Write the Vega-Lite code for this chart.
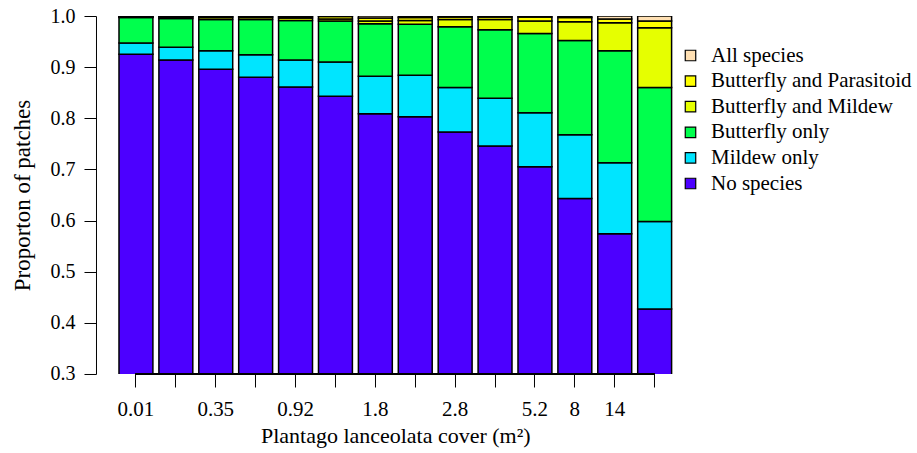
{
  "$schema": "https://vega.github.io/schema/vega-lite/v6.json",
  "autosize": "none",
  "width": 558.6,
  "height": 358,
  "padding": {"left": 116, "top": 16, "right": 242, "bottom": 79},
  "background": "white",
  "config": {
    "view": {"stroke": null},
    "font": "Liberation Serif",
    "axis": {"labelFont": "Liberation Serif", "titleFont": "Liberation Serif", "labelColor": "black", "titleColor": "black", "domainColor": "black", "tickColor": "black", "grid": false, "titleFontWeight": "normal"},
    "legend": {"labelFont": "Liberation Serif", "labelColor": "black"}
  },
  "data": {"values": [
    {"bin": 1, "status": "No species", "p": 0.925},
    {"bin": 1, "status": "Mildew only", "p": 0.022},
    {"bin": 1, "status": "Butterfly only", "p": 0.050},
    {"bin": 1, "status": "Butterfly and Mildew", "p": 0.001},
    {"bin": 1, "status": "Butterfly and Parasitoid", "p": 0.001},
    {"bin": 1, "status": "All species", "p": 0.001},
    {"bin": 2, "status": "No species", "p": 0.914},
    {"bin": 2, "status": "Mildew only", "p": 0.025},
    {"bin": 2, "status": "Butterfly only", "p": 0.056},
    {"bin": 2, "status": "Butterfly and Mildew", "p": 0.003},
    {"bin": 2, "status": "Butterfly and Parasitoid", "p": 0.001},
    {"bin": 2, "status": "All species", "p": 0.001},
    {"bin": 3, "status": "No species", "p": 0.896},
    {"bin": 3, "status": "Mildew only", "p": 0.036},
    {"bin": 3, "status": "Butterfly only", "p": 0.061},
    {"bin": 3, "status": "Butterfly and Mildew", "p": 0.004},
    {"bin": 3, "status": "Butterfly and Parasitoid", "p": 0.002},
    {"bin": 3, "status": "All species", "p": 0.001},
    {"bin": 4, "status": "No species", "p": 0.880},
    {"bin": 4, "status": "Mildew only", "p": 0.044},
    {"bin": 4, "status": "Butterfly only", "p": 0.069},
    {"bin": 4, "status": "Butterfly and Mildew", "p": 0.004},
    {"bin": 4, "status": "Butterfly and Parasitoid", "p": 0.002},
    {"bin": 4, "status": "All species", "p": 0.001},
    {"bin": 5, "status": "No species", "p": 0.861},
    {"bin": 5, "status": "Mildew only", "p": 0.053},
    {"bin": 5, "status": "Butterfly only", "p": 0.077},
    {"bin": 5, "status": "Butterfly and Mildew", "p": 0.005},
    {"bin": 5, "status": "Butterfly and Parasitoid", "p": 0.003},
    {"bin": 5, "status": "All species", "p": 0.001},
    {"bin": 6, "status": "No species", "p": 0.843},
    {"bin": 6, "status": "Mildew only", "p": 0.067},
    {"bin": 6, "status": "Butterfly only", "p": 0.080},
    {"bin": 6, "status": "Butterfly and Mildew", "p": 0.004},
    {"bin": 6, "status": "Butterfly and Parasitoid", "p": 0.005},
    {"bin": 6, "status": "All species", "p": 0.001},
    {"bin": 7, "status": "No species", "p": 0.809},
    {"bin": 7, "status": "Mildew only", "p": 0.073},
    {"bin": 7, "status": "Butterfly only", "p": 0.103},
    {"bin": 7, "status": "Butterfly and Mildew", "p": 0.005},
    {"bin": 7, "status": "Butterfly and Parasitoid", "p": 0.006},
    {"bin": 7, "status": "All species", "p": 0.004},
    {"bin": 8, "status": "No species", "p": 0.803},
    {"bin": 8, "status": "Mildew only", "p": 0.081},
    {"bin": 8, "status": "Butterfly only", "p": 0.100},
    {"bin": 8, "status": "Butterfly and Mildew", "p": 0.007},
    {"bin": 8, "status": "Butterfly and Parasitoid", "p": 0.006},
    {"bin": 8, "status": "All species", "p": 0.003},
    {"bin": 9, "status": "No species", "p": 0.773},
    {"bin": 9, "status": "Mildew only", "p": 0.087},
    {"bin": 9, "status": "Butterfly only", "p": 0.119},
    {"bin": 9, "status": "Butterfly and Mildew", "p": 0.014},
    {"bin": 9, "status": "Butterfly and Parasitoid", "p": 0.005},
    {"bin": 9, "status": "All species", "p": 0.002},
    {"bin": 10, "status": "No species", "p": 0.746},
    {"bin": 10, "status": "Mildew only", "p": 0.093},
    {"bin": 10, "status": "Butterfly only", "p": 0.134},
    {"bin": 10, "status": "Butterfly and Mildew", "p": 0.020},
    {"bin": 10, "status": "Butterfly and Parasitoid", "p": 0.005},
    {"bin": 10, "status": "All species", "p": 0.002},
    {"bin": 11, "status": "No species", "p": 0.705},
    {"bin": 11, "status": "Mildew only", "p": 0.106},
    {"bin": 11, "status": "Butterfly only", "p": 0.155},
    {"bin": 11, "status": "Butterfly and Mildew", "p": 0.024},
    {"bin": 11, "status": "Butterfly and Parasitoid", "p": 0.008},
    {"bin": 11, "status": "All species", "p": 0.002},
    {"bin": 12, "status": "No species", "p": 0.643},
    {"bin": 12, "status": "Mildew only", "p": 0.125},
    {"bin": 12, "status": "Butterfly only", "p": 0.184},
    {"bin": 12, "status": "Butterfly and Mildew", "p": 0.037},
    {"bin": 12, "status": "Butterfly and Parasitoid", "p": 0.008},
    {"bin": 12, "status": "All species", "p": 0.003},
    {"bin": 13, "status": "No species", "p": 0.574},
    {"bin": 13, "status": "Mildew only", "p": 0.139},
    {"bin": 13, "status": "Butterfly only", "p": 0.219},
    {"bin": 13, "status": "Butterfly and Mildew", "p": 0.055},
    {"bin": 13, "status": "Butterfly and Parasitoid", "p": 0.007},
    {"bin": 13, "status": "All species", "p": 0.006},
    {"bin": 14, "status": "No species", "p": 0.427},
    {"bin": 14, "status": "Mildew only", "p": 0.171},
    {"bin": 14, "status": "Butterfly only", "p": 0.262},
    {"bin": 14, "status": "Butterfly and Mildew", "p": 0.117},
    {"bin": 14, "status": "Butterfly and Parasitoid", "p": 0.013},
    {"bin": 14, "status": "All species", "p": 0.010}
  ]},
  "layer": [
    {
      "transform": [
        {"calculate": "indexof(['No species','Mildew only','Butterfly only','Butterfly and Mildew','Butterfly and Parasitoid','All species'], datum.status)", "as": "stackRank"}
      ],
      "mark": {"type": "bar", "clip": true, "stroke": "black", "strokeWidth": 1.5},
      "encoding": {
        "x": {
          "field": "bin", "type": "ordinal",
          "scale": {"paddingInner": 0.15, "paddingOuter": 0.075},
          "axis": {
            "title": "Plantago lanceolata cover (m²)",
            "titleFontSize": 22,
            "titlePadding": 6,
            "labelAngle": 0,
            "labelFontSize": 21,
            "labelPadding": 12,
            "tickSize": 13,
            "domain": false,
            "labelExpr": "datum.value == 1 ? '0.01' : datum.value == 3 ? '0.35' : datum.value == 5 ? '0.92' : datum.value == 7 ? '1.8' : datum.value == 9 ? '2.8' : datum.value == 11 ? '5.2' : datum.value == 12 ? '8' : datum.value == 13 ? '14' : ''"
          }
        },
        "y": {
          "field": "p", "type": "quantitative", "stack": "zero",
          "scale": {"domain": [0.3, 1.0], "nice": false, "zero": false},
          "axis": {
            "title": "Proporton of patches",
            "titleFontSize": 23,
            "titlePadding": 15,
            "values": [0.3, 0.4, 0.5, 0.6, 0.7, 0.8, 0.9, 1.0],
            "format": ".1f",
            "labelFontSize": 20,
            "labelPadding": 9,
            "tickSize": 12,
            "offset": 20
          }
        },
        "color": {
          "field": "status", "type": "nominal",
          "scale": {
            "domain": ["All species", "Butterfly and Parasitoid", "Butterfly and Mildew", "Butterfly only", "Mildew only", "No species"],
            "range": ["#FFE0B3", "#FFFF00", "#E6FF00", "#00FF4D", "#00E5FF", "#4C00FF"]
          },
          "legend": {
            "title": null,
            "orient": "none",
            "legendX": 564,
            "legendY": 29,
            "symbolType": "square",
            "symbolSize": 110,
            "symbolStrokeColor": "black",
            "symbolStrokeWidth": 1.2,
            "symbolOpacity": 1,
            "labelFontSize": 21,
            "labelLimit": 400,
            "labelOffset": 10,
            "rowPadding": 3.6
          }
        },
        "order": {"field": "stackRank", "type": "quantitative"}
      }
    },
    {
      "mark": {"type": "rule", "color": "black", "strokeWidth": 1},
      "encoding": {
        "x": {"datum": 1, "type": "ordinal"},
        "x2": {"datum": 14},
        "y": {"datum": 0.3, "type": "quantitative"}
      }
    }
  ]
}
